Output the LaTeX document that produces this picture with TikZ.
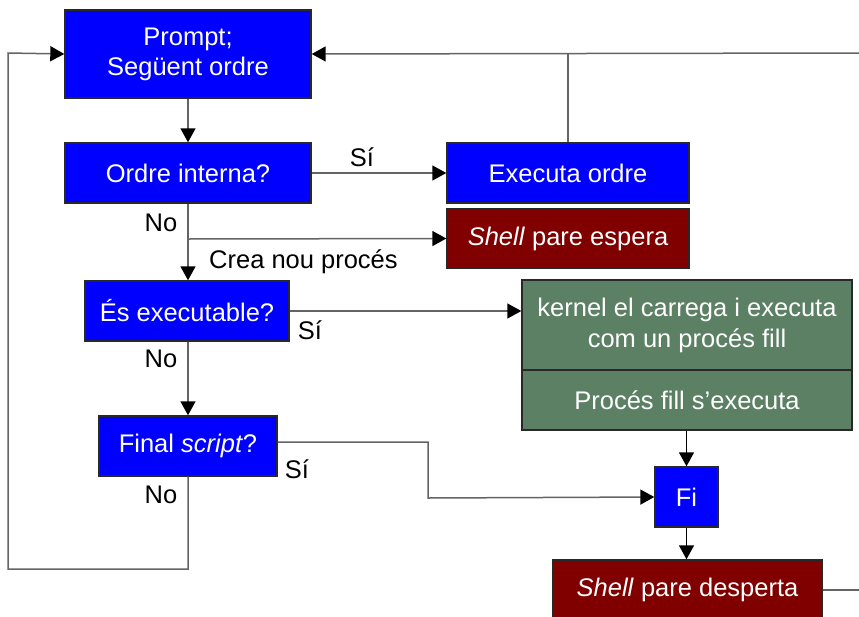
\documentclass[tikz,border=0pt]{standalone}
\usepackage{fontspec}
\setmainfont{Liberation Sans}
\usetikzlibrary{arrows.meta}
\definecolor{boxblue}{RGB}{0,0,255}
\definecolor{boxred}{RGB}{128,0,0}
\definecolor{boxgreen}{RGB}{91,128,100}
\definecolor{linegray}{RGB}{100,100,100}
\definecolor{edgegray}{RGB}{40,40,40}
\tikzset{
  boxbase/.style={draw=edgegray, line width=1.4pt, inner sep=0pt, text=white, align=center,
    font=\fontsize{25.5}{30}\selectfont},
  bluebox/.style={boxbase, fill=boxblue},
  redbox/.style={boxbase, fill=boxred},
  greenbox/.style={boxbase, fill=boxgreen, font=\fontsize{25.5}{31}\selectfont},
  conn/.style={draw=linegray, line width=1.5pt},
  arr/.style={conn, -{Triangle[length=14pt,width=15pt,color=black]}},
  lbl/.style={font=\fontsize{25.5}{30}\selectfont, text=black, inner sep=0pt}
}
\begin{document}
\begin{tikzpicture}[x=1pt,y=-1pt]
\useasboundingbox (0,0) rectangle (859,616);
\begin{scope}
\clip (0,0) rectangle (859,616);
% nodes
\node[bluebox, minimum width=246pt, minimum height=88pt] (prompt) at (188,54) {\raisebox{-2pt}{\parbox{240pt}{\centering Prompt;\\Següent ordre}}};
\node[bluebox, minimum width=246pt, minimum height=60pt] (interna) at (188,173) {Ordre interna?};
\node[bluebox, minimum width=242pt, minimum height=60pt] (exec) at (568,173) {Executa ordre};
\node[redbox, minimum width=242pt, minimum height=59pt] (espera) at (568,238.5) {\textit{Shell} pare espera};
\node[bluebox, minimum width=204pt, minimum height=60pt] (exe) at (187,311) {És executable?};
\node[greenbox, minimum width=330pt, minimum height=90pt] (kernel) at (687,325) {kernel el carrega i executa\\com un procés fill};
\node[greenbox, minimum width=330pt, minimum height=60pt] (fill) at (687,400) {Procés fill s’executa};
\node[bluebox, minimum width=178pt, minimum height=60pt] (final) at (188,446) {Final \textit{script}?};
\node[bluebox, minimum width=63pt, minimum height=60pt] (fi) at (686.5,497) {Fi};
\node[redbox, minimum width=269pt, minimum height=60pt] (desperta) at (687.5,590) {\textit{Shell} pare desperta};

% free ends
\coordinate (topright) at (859,53);
\coordinate (botright) at (859,590);
\coordinate (branch) at (188,239);
\coordinate (loopdown) at (188,569);

% connectors
\draw[arr] (prompt.south) -- (interna.north);
\draw[arr] (interna.east) -- (exec.west);
\draw[arr] (interna.south) -- (exe.north -| interna.south);
\draw[arr] (branch) -- (espera.west);
\draw[arr] (topright) -- (prompt.east);
\draw[conn] (exec.north) -- (exec.north |- topright);
\draw[arr] (exe.east) -- (exe.east -| kernel.west);
\draw[arr] (exe.south -| final.north) -- (final.north);
\draw[arr] ([yshift=4pt]final.east) -| (428,498) -- (fi.west);
\draw[arr, draw=black] (fill.south -| fi.north) -- (fi.north);
\draw[arr, draw=black] (fi.south) -- (fi.south |- desperta.north);
\draw[conn] (desperta.east) -- (botright);
\draw[arr] (final.south) -- (loopdown) -| (8,53) -- (prompt.west);

% labels
\node[lbl] (si1) at (362,157) {Sí};
\node[lbl] (no1) at (161,223) {No};
\node[lbl, anchor=west] (crea) at (209,262) {Crea nou procés};
\node[lbl] (si2) at (310,330) {Sí};
\node[lbl] (no2) at (161,359) {No};
\node[lbl] (si3) at (297,469) {Sí};
\node[lbl] (no3) at (161,495) {No};
\end{scope}
\end{tikzpicture}
\end{document}
